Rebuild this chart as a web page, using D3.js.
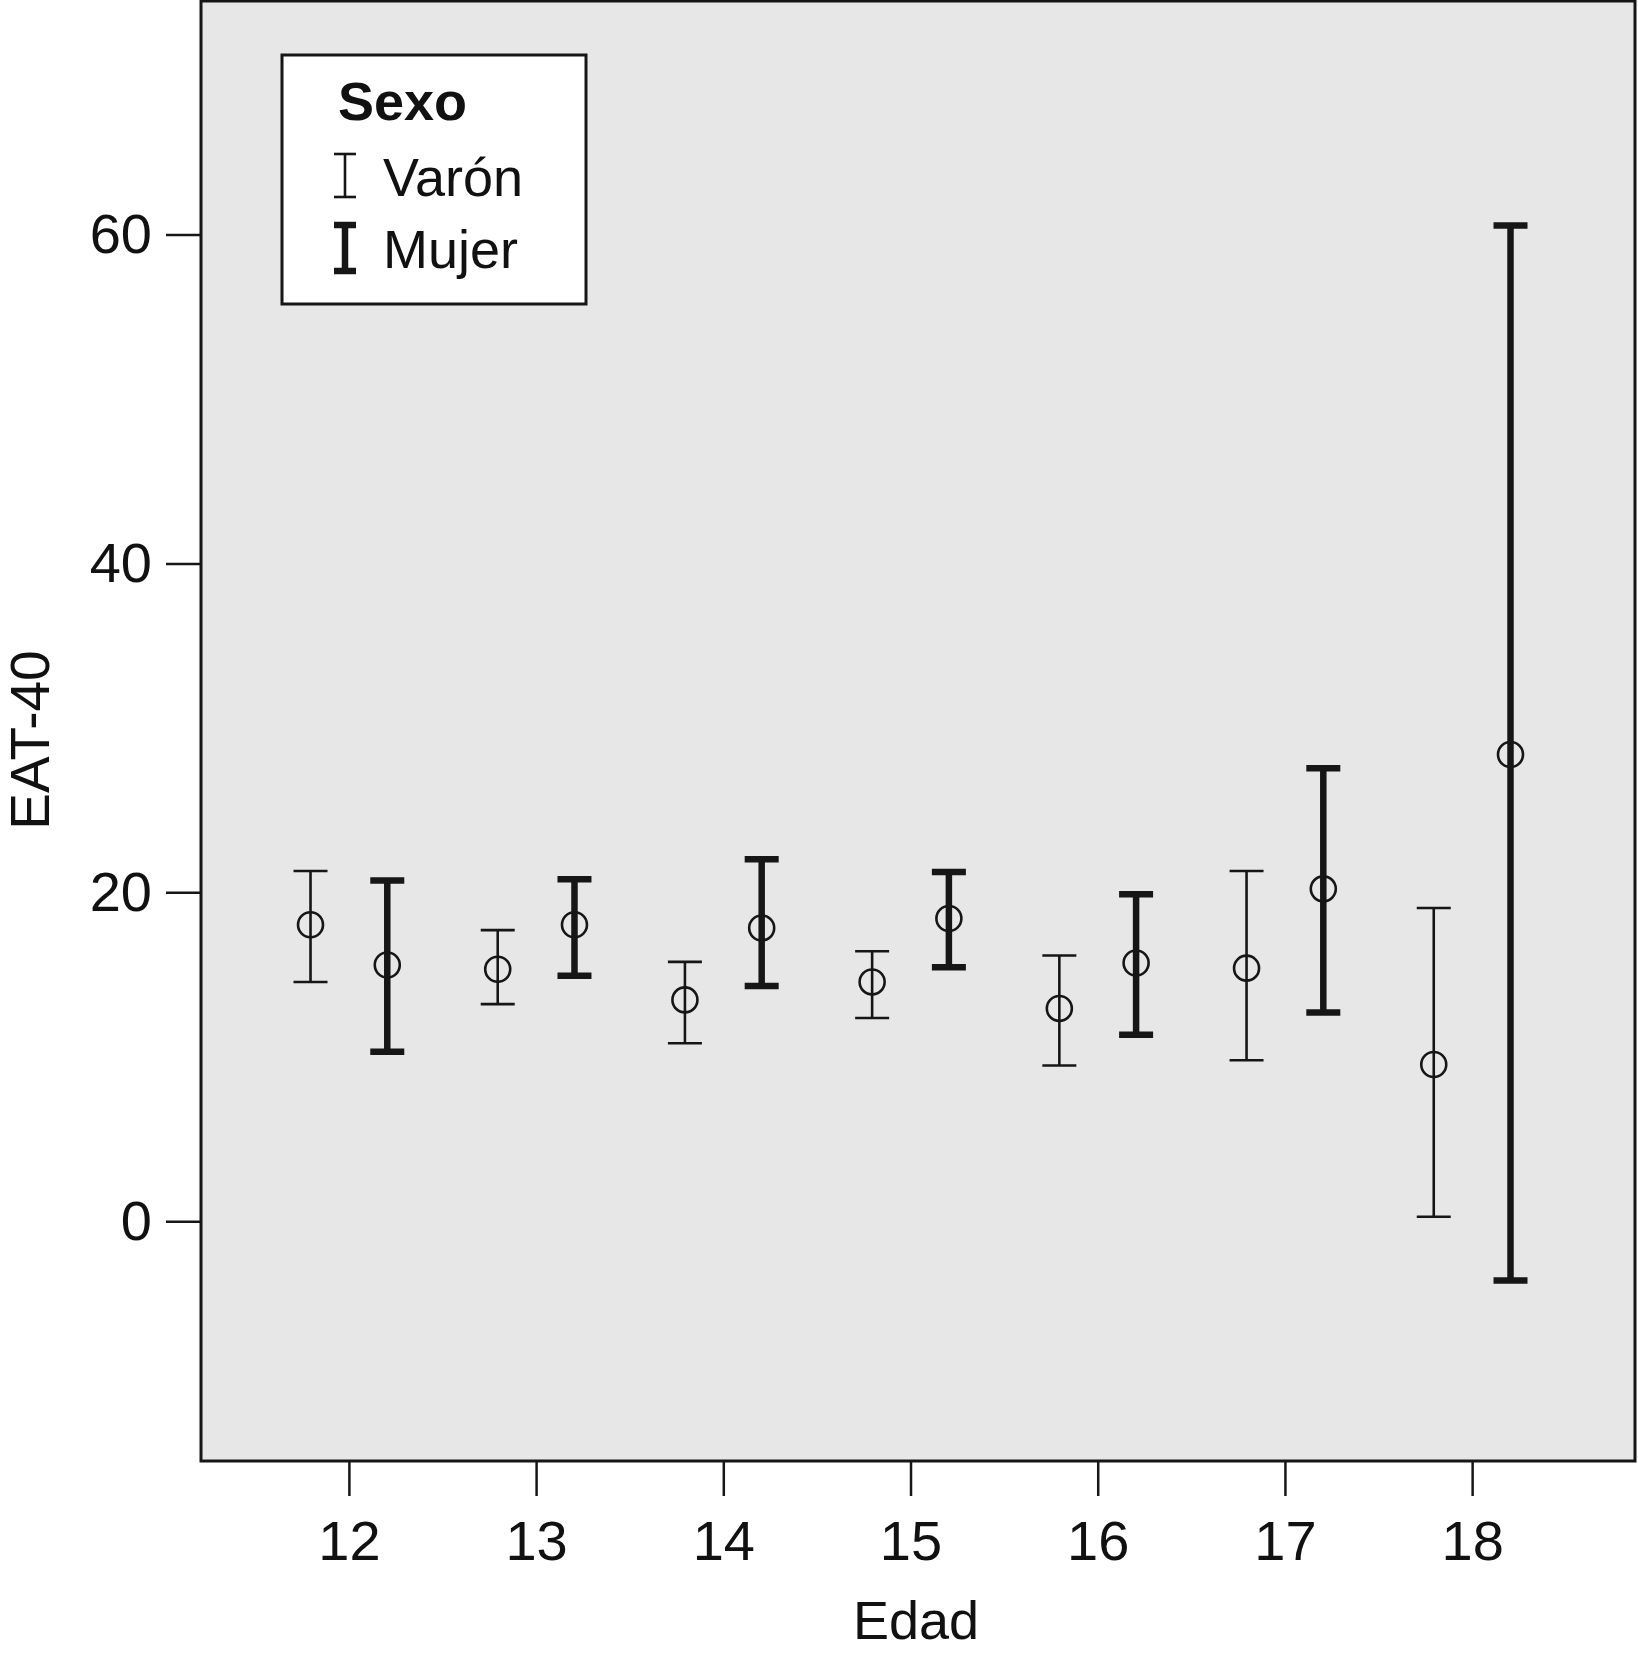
<!DOCTYPE html>
<html><head><meta charset="utf-8">
<script src="https://cdn.jsdelivr.net/npm/d3@7"></script>
<style>
html,body{margin:0;padding:0;background:#fff;}
svg text{font-family:"Liberation Sans",Arial,sans-serif;fill:#111;}
</style></head>
<body>
<svg id="chart" width="1638" height="1660"></svg>
<script>
const ages = [12,13,14,15,16,17,18];
const sexes = ["Varón","Mujer"];
const varonMean  = [18.03,15.32,13.46,14.55,12.94,15.39,9.53];
const varonLow   = [14.55,13.20,10.82,12.36,9.47,9.79,0.27];
const varonHigh  = [21.30,17.70,15.77,16.42,16.16,21.30,19.05];
const mujerMean  = [15.58,18.03,17.83,18.41,15.70,20.21,28.38];
const mujerLow   = [10.30,14.93,14.30,15.45,11.34,12.69,-3.60];
const mujerHigh  = [20.72,20.79,22.01,21.24,19.89,27.54,60.55];
const yTicks = [0,20,40,60];
const xLabel = "Edad", yLabel = "EAT-40", legendTitle = "Sexo";

const svg = d3.select("#chart");
const L = 201, R = 1635, T = 1, B = 1461;
const x = d3.scaleLinear().domain([11.21,18.87]).range([L,R]);
const y = d3.scaleLinear().domain([-14.58,74.2]).range([B,T]);

svg.append("rect").attr("x",L).attr("y",T).attr("width",R-L).attr("height",B-T)
  .attr("fill","#e7e7e7").attr("stroke","#161616").attr("stroke-width",3);

// axes
const xAxis = d3.axisBottom(x).tickValues(ages).tickFormat(d3.format("d")).tickSize(34).tickPadding(24);
const gx = svg.append("g").attr("transform",`translate(0,${B+1})`).call(xAxis);
gx.select(".domain").remove();
gx.selectAll("line").attr("stroke","#161616").attr("stroke-width",2.5);
gx.selectAll("text").attr("font-size",56).attr("fill","#111").attr("font-family","Liberation Sans, Arial, sans-serif");

const yAxis = d3.axisLeft(y).tickValues(yTicks).tickFormat(d3.format("d")).tickSize(35).tickPadding(14);
const gy = svg.append("g").attr("transform",`translate(${L},0)`).call(yAxis);
gy.select(".domain").remove();
gy.selectAll("line").attr("stroke","#161616").attr("stroke-width",2.5);
gy.selectAll("text").attr("font-size",56).attr("fill","#111").attr("font-family","Liberation Sans, Arial, sans-serif");

svg.append("text").attr("x",916).attr("y",1639).attr("text-anchor","middle")
  .attr("font-size",54).text(xLabel);
svg.append("text").attr("transform","translate(49,740) rotate(-90)").attr("text-anchor","middle")
  .attr("font-size",55).text(yLabel);

// series
const series = [
  {name:sexes[0], off:-0.205, mean:varonMean, lo:varonLow, hi:varonHigh, w:2.6},
  {name:sexes[1], off:0.205,  mean:mujerMean, lo:mujerLow, hi:mujerHigh, w:6.5}
];
const capHalf = 17;
series.forEach(s=>{
  const data = ages.map((a,i)=>({a, m:s.mean[i], lo:s.lo[i], hi:s.hi[i]}));
  const g = svg.append("g");
  const grp = g.selectAll("g").data(data).join("g");
  grp.append("line").attr("x1",d=>x(d.a+s.off)).attr("x2",d=>x(d.a+s.off))
    .attr("y1",d=>y(d.hi)).attr("y2",d=>y(d.lo)).attr("stroke","#161616").attr("stroke-width",s.w);
  grp.append("line").attr("x1",d=>x(d.a+s.off)-capHalf).attr("x2",d=>x(d.a+s.off)+capHalf)
    .attr("y1",d=>y(d.hi)).attr("y2",d=>y(d.hi)).attr("stroke","#161616").attr("stroke-width",s.w);
  grp.append("line").attr("x1",d=>x(d.a+s.off)-capHalf).attr("x2",d=>x(d.a+s.off)+capHalf)
    .attr("y1",d=>y(d.lo)).attr("y2",d=>y(d.lo)).attr("stroke","#161616").attr("stroke-width",s.w);
  grp.append("circle").attr("cx",d=>x(d.a+s.off)).attr("cy",d=>y(d.m)).attr("r",12.5)
    .attr("fill","none").attr("stroke","#161616").attr("stroke-width",2.6);
});

// legend
const lg = svg.append("g");
lg.append("rect").attr("x",282).attr("y",55).attr("width",304).attr("height",249)
  .attr("fill","#fff").attr("stroke","#161616").attr("stroke-width",3);
lg.append("text").attr("x",338).attr("y",120).attr("font-size",54).attr("font-weight","bold").text(legendTitle);
const legItems = [
  {name:sexes[0], y0:154, y1:197, w:2.6, base:196},
  {name:sexes[1], y0:225, y1:271, w:6.5, base:268}
];
legItems.forEach(it=>{
  lg.append("line").attr("x1",345).attr("x2",345).attr("y1",it.y0).attr("y2",it.y1).attr("stroke","#161616").attr("stroke-width",it.w);
  lg.append("line").attr("x1",334).attr("x2",356).attr("y1",it.y0).attr("y2",it.y0).attr("stroke","#161616").attr("stroke-width",it.w);
  lg.append("line").attr("x1",334).attr("x2",356).attr("y1",it.y1).attr("y2",it.y1).attr("stroke","#161616").attr("stroke-width",it.w);
  lg.append("text").attr("x",383).attr("y",it.base).attr("font-size",54).text(it.name);
});
</script>
</body></html>
